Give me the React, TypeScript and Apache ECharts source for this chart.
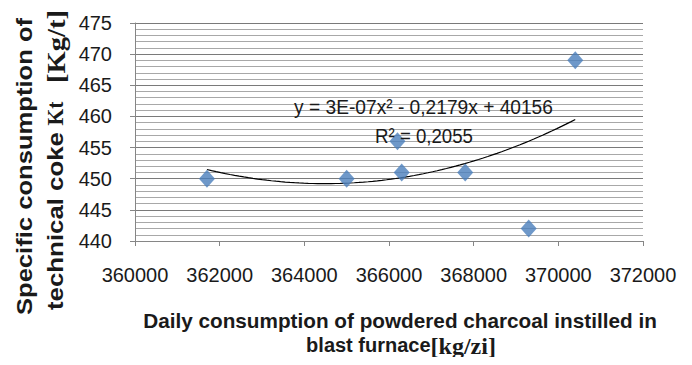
import React, { useEffect, useRef } from "react";
import * as echarts from "echarts";

const charcoalDaily = [361700, 365000, 366200, 366300, 367800, 369300, 370400];
const cokeSpecific = [450, 450, 456, 451, 451, 442, 469];
const xAxisRange = [360000, 372000];
const xAxisStep = 2000;
const yAxisRange = [440, 475];
const yAxisStep = 5;
const yMinorStep = 1;
const trendEquation = "y = 3E-07x² - 0,2179x + 40156";
const trendR2 = "R² = 0,2055";
const yTitleLine1 = "Specific consumption of";
const yTitleLine2Sans = "technical coke";
const yTitleLine2Symbol = "Kt";
const yTitleLine2Unit = "[Kg/t]";
const xTitleLine1 = "Daily consumption of powdered charcoal instilled in";
const xTitleLine2Sans = "blast furnace";
const xTitleLine2Unit = "[kg/zi]";

const SANS = '"Liberation Sans", Arial, sans-serif';
const SERIF = '"Liberation Serif", "Times New Roman", serif';
const TEXT_COLOR = "#1a1a1a";

function fitQuadratic(xs: number[], ys: number[]) {
  const x0 = xs.reduce((a, b) => a + b, 0) / xs.length;
  const k = 1000;
  const u = xs.map((x) => (x - x0) / k);
  const S = [0, 0, 0, 0, 0];
  const T = [0, 0, 0];
  u.forEach((ui, i) => {
    for (let p = 0; p < 5; p++) S[p] += Math.pow(ui, p);
    for (let p = 0; p < 3; p++) T[p] += ys[i] * Math.pow(ui, p);
  });
  const M = [
    [S[0], S[1], S[2], T[0]],
    [S[1], S[2], S[3], T[1]],
    [S[2], S[3], S[4], T[2]],
  ];
  for (let c = 0; c < 3; c++) {
    for (let r = c + 1; r < 3; r++) {
      const f = M[r][c] / M[c][c];
      for (let j = c; j < 4; j++) M[r][j] -= f * M[c][j];
    }
  }
  const coef = [0, 0, 0];
  for (let r = 2; r >= 0; r--) {
    let s = M[r][3];
    for (let j = r + 1; j < 3; j++) s -= M[r][j] * coef[j];
    coef[r] = s / M[r][r];
  }
  return (x: number) => {
    const v = (x - x0) / k;
    return coef[0] + coef[1] * v + coef[2] * v * v;
  };
}

let measureCtx: CanvasRenderingContext2D | null = null;
function textWidth(text: string, font: string) {
  if (!measureCtx) measureCtx = document.createElement("canvas").getContext("2d");
  measureCtx!.font = font;
  return measureCtx!.measureText(text).width;
}

function stretchedText(
  text: string,
  font: string,
  cx: number,
  cy: number,
  targetLen: number,
  vertical: boolean,
  fill = TEXT_COLOR
) {
  const w = textWidth(text, font);
  const s = targetLen / w;
  return {
    type: "text",
    x: cx,
    y: cy,
    rotation: vertical ? Math.PI / 2 : 0,
    scaleX: s,
    scaleY: 1,
    silent: true,
    z: 100,
    style: {
      text,
      font,
      fill,
      align: "center",
      verticalAlign: "middle",
      textAlign: "center",
      textVerticalAlign: "middle",
    },
  };
}

export default function App() {
  const ref = useRef<HTMLDivElement>(null);

  useEffect(() => {
    if (!ref.current) return;
    const chart = echarts.init(ref.current, null, { renderer: "svg" });

    const trend = fitQuadratic(charcoalDaily, cokeSpecific);
    const xMin = Math.min(...charcoalDaily);
    const xMax = Math.max(...charcoalDaily);
    const steps = 80;
    const trendData: number[][] = [];
    for (let i = 0; i <= steps; i++) {
      const x = xMin + ((xMax - xMin) * i) / steps;
      trendData.push([x, trend(x)]);
    }

    const sansBold22 = `bold 22px ${SANS}`;
    const serifBold23 = `bold 23px ${SERIF}`;
    const serifBold25 = `bold 25px ${SERIF}`;
    const sansBold20 = `bold 20px ${SANS}`;
    const serifBold24 = `bold 24px ${SERIF}`;
    const sans21 = `21px ${SANS}`;

    const xUnitW = textWidth(xTitleLine2Unit, serifBold24);
    const xSansW = textWidth(xTitleLine2Sans, sansBold20);
    const line2Total = xUnitW + xSansW;
    const line2Start = 401 - line2Total / 2;

    const graphics = [
      stretchedText(yTitleLine1, sansBold22, 24, 166.5, 297, true),
      stretchedText(yTitleLine2Sans, sansBold22, 55, 221, 178, true),
      stretchedText(yTitleLine2Symbol, serifBold23, 55, 113.5, 24, true),
      stretchedText(yTitleLine2Unit, serifBold25, 57, 46.5, 73, true),
      stretchedText(xTitleLine1, sansBold20, 400, 321, 514, false),
      stretchedText(xTitleLine2Sans, sansBold20, line2Start + xSansW / 2, 345, xSansW, false),
      stretchedText(xTitleLine2Unit, serifBold24, line2Start + xSansW + xUnitW / 2, 346, xUnitW, false),
      stretchedText(trendEquation, sans21, 423.5, 107, 259, false),
      stretchedText(trendR2, sans21, 424, 136, 98, false),
    ];

    chart.setOption({
      animation: false,
      backgroundColor: "#ffffff",
      grid: [
        { left: 135, right: 49, top: 23, bottom: 124, containLabel: false },
        { left: 135, right: 49, top: 23, bottom: 124, containLabel: false },
      ],
      xAxis: [
        {
          type: "value",
          gridIndex: 0,
          min: xAxisRange[0],
          max: xAxisRange[1],
          interval: xAxisStep,
          axisLine: { show: true, lineStyle: { color: "#868686", width: 1 } },
          axisTick: { show: true, length: 5, lineStyle: { color: "#868686" } },
          axisLabel: {
            fontSize: 20,
            fontFamily: SANS,
            color: TEXT_COLOR,
            margin: 24,
            formatter: (v: number) => String(v),
          },
          splitLine: { show: false },
          z: 3,
        },
        {
          type: "value",
          gridIndex: 1,
          min: xAxisRange[0],
          max: xAxisRange[1],
          interval: xAxisStep,
          show: false,
        },
      ],
      yAxis: [
        {
          type: "value",
          gridIndex: 0,
          min: yAxisRange[0],
          max: yAxisRange[1],
          interval: yAxisStep,
          axisLine: { show: true, lineStyle: { color: "#868686", width: 1 } },
          axisTick: { show: true, length: 5, lineStyle: { color: "#868686" } },
          axisLabel: {
            fontSize: 20,
            fontFamily: SANS,
            color: TEXT_COLOR,
            margin: 23,
            formatter: (v: number) => String(v),
          },
          splitLine: { show: true, lineStyle: { color: "#7a7a7a", width: 1 } },
          z: 2,
        },
        {
          type: "value",
          gridIndex: 1,
          min: yAxisRange[0],
          max: yAxisRange[1],
          interval: yMinorStep,
          axisLine: { show: false },
          axisTick: { show: false },
          axisLabel: { show: false },
          splitLine: { show: true, lineStyle: { color: "#a8a8a8", width: 1 } },
          z: 1,
        },
      ],
      series: [
        {
          type: "line",
          xAxisIndex: 1,
          yAxisIndex: 1,
          data: [],
          silent: true,
        },
        {
          type: "line",
          data: trendData,
          showSymbol: false,
          symbol: "none",
          smooth: false,
          lineStyle: { color: "#000000", width: 1.2 },
          z: 3,
          silent: true,
        },
        {
          type: "scatter",
          data: charcoalDaily.map((x, i) => [x, cokeSpecific[i]]),
          symbol: "diamond",
          symbolSize: [16, 18],
          itemStyle: { color: "#4a7ebb" },
          z: 4,
        },
      ],
      graphic: graphics,
    });

    return () => chart.dispose();
  }, []);

  return <div ref={ref} style={{ width: 692, height: 365, margin: -8 }} />;
}
